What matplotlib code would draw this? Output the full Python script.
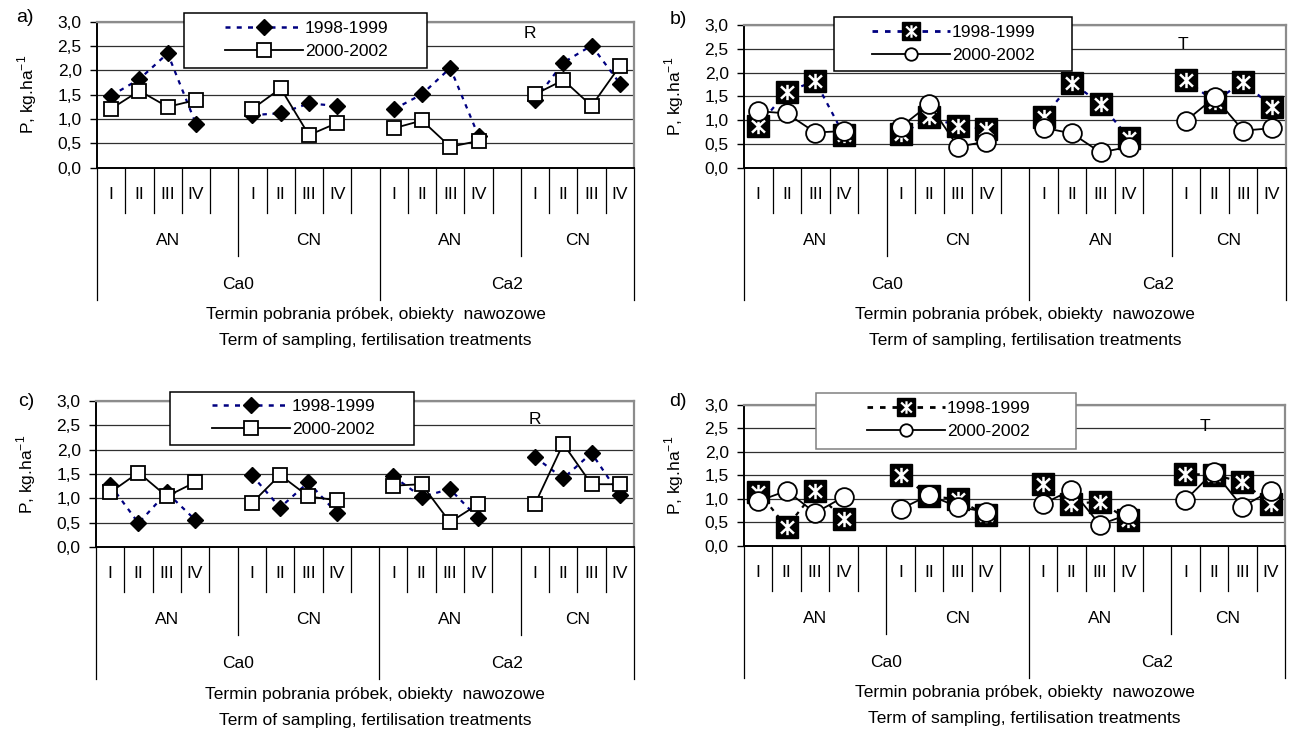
import matplotlib
matplotlib.use('Agg')
import matplotlib.pyplot as plt
from matplotlib.lines import Line2D
from matplotlib.patches import Rectangle
from matplotlib.path import Path
from matplotlib.ticker import FuncFormatter, MultipleLocator

plt.rcParams['font.family'] = ['Liberation Sans', 'DejaVu Sans']

# kategorie osi X
terms = ['I', 'II', 'III', 'IV']
fert = ['AN', 'CN', 'AN', 'CN']
lime = ['Ca0', 'Ca2']
series_names = ['1998-1999', '2000-2002']

# P, kg/ha  (Ca0 AN I-IV, Ca0 CN I-IV, Ca2 AN I-IV, Ca2 CN I-IV)
a_9899 = [1.48, 1.82, 2.35, 0.90, 1.08, 1.12, 1.32, 1.27, 1.20, 1.51, 2.05, 0.65, 1.39, 2.16, 2.51, 1.73]
a_0002 = [1.21, 1.58, 1.25, 1.39, 1.21, 1.63, 0.67, 0.92, 0.81, 0.97, 0.43, 0.55, 1.51, 1.80, 1.27, 2.09]
b_9899 = [0.88, 1.60, 1.82, 0.69, 0.70, 1.06, 0.88, 0.81, 1.06, 1.79, 1.34, 0.62, 1.84, 1.39, 1.81, 1.28]
b_0002 = [1.19, 1.14, 0.74, 0.77, 0.86, 1.33, 0.44, 0.55, 0.84, 0.72, 0.32, 0.44, 0.99, 1.48, 0.78, 0.83]
c_9899 = [1.28, 0.49, 1.12, 0.56, 1.48, 0.81, 1.33, 0.70, 1.45, 1.03, 1.19, 0.59, 1.85, 1.41, 1.93, 1.07]
c_0002 = [1.12, 1.53, 1.04, 1.33, 0.90, 1.48, 1.04, 0.96, 1.26, 1.29, 0.51, 0.88, 0.88, 2.12, 1.29, 1.29]
d_9899 = [1.15, 0.40, 1.16, 0.56, 1.51, 1.06, 0.99, 0.65, 1.31, 0.89, 0.94, 0.55, 1.53, 1.51, 1.36, 0.89]
d_0002 = [0.95, 1.17, 0.70, 1.04, 0.78, 1.08, 0.83, 0.72, 0.89, 1.19, 0.45, 0.67, 0.97, 1.58, 0.83, 1.17]

W, H = 1291, 732
FS = 12.5
NAVY = '#000080'
DOT = (0, (2, 2.5))

# gwiazdka jak w Excelu
star = Path([(0, -1), (0, 1), (-0.85, -0.8), (0.85, 0.8), (-0.85, 0.8), (0.85, -0.8)],
            [Path.MOVETO, Path.LINETO] * 3)

panels = [
    dict(tag='a)', v1=a_9899, v2=a_0002, style='diamond', dash=NAVY, note='R', note_xy=(15.3, 2.75),
         box=(97, 634, 21.7, 167.7), tag_xy=(25, 18), leg=(184, 427, 13, 68), leg_x=225, leg_y=27, leg_ec='black'),
    dict(tag='b)', v1=b_9899, v2=b_0002, style='star', dash=NAVY, note='T', note_xy=(15.4, 2.6),
         box=(744, 1286, 25, 167.7), tag_xy=(678, 20), leg=(834, 1072, 17, 71), leg_x=872, leg_y=31, leg_ec='black'),
    dict(tag='c)', v1=c_9899, v2=c_0002, style='diamond', dash=NAVY, note='R', note_xy=(15.5, 2.62),
         box=(96, 634, 401, 547), tag_xy=(26, 401), leg=(170, 414, 392, 445), leg_x=212, leg_y=405, leg_ec='black'),
    dict(tag='d)', v1=d_9899, v2=d_0002, style='star', dash='black', note='T', note_xy=(16.2, 2.55),
         box=(744, 1285, 405, 545.7), tag_xy=(678, 401), leg=(816, 1076, 393, 449), leg_x=867, leg_y=407, leg_ec='#808080'),
]

fig = plt.figure(figsize=(W / 100, H / 100), dpi=100)


def draw_panel(p):
    l, r, t, b = p['box']
    ax = fig.add_axes([l / W, 1 - b / H, (r - l) / W, (b - t) / H])
    axw, axh = r - l, b - t
    v1, v2 = p['v1'], p['v2']

    for g in range(4):
        xs = [g * 5 + k + 0.5 for k in range(4)]
        y1 = v1[4 * g:4 * g + 4]
        y2 = v2[4 * g:4 * g + 4]
        if p['style'] == 'diamond':
            ax.plot(xs, y1, color=p['dash'], ls=DOT, lw=1.6, marker='D', ms=8.3,
                    mfc='black', mec='black', zorder=3, clip_on=False)
            ax.plot(xs, y2, color='black', lw=1.3, marker='s', ms=10, mfc='white',
                    mec='black', mew=1.3, zorder=4, clip_on=False)
        else:
            ax.plot(xs, y1, color=p['dash'], ls=DOT, lw=1.6, marker='s', ms=15.5,
                    mfc='black', mec='black', zorder=3, clip_on=False)
            ax.plot(xs, y1, ls='none', marker=star, ms=11, mfc='none', mec='white',
                    mew=1.8, zorder=3.1, clip_on=False)
            ax.plot(xs, y2, color='black', lw=1.3, marker='o', ms=13.5, mfc='white',
                    mec='black', mew=1.3, zorder=4, clip_on=False)

    ax.set_xlim(0, 19)
    ax.set_ylim(0, 3)
    ax.yaxis.set_major_locator(MultipleLocator(0.5))
    ax.yaxis.set_major_formatter(FuncFormatter(lambda v, _: f'{v:.1f}'.replace('.', ',')))
    ax.tick_params(axis='y', length=5, width=1, pad=6, labelsize=FS)
    ax.set_xticks([])
    ax.set_axisbelow(True)
    ax.grid(axis='y', color='#303030', lw=0.9)
    ax.spines['left'].set_linewidth(1.4)
    ax.spines['bottom'].set_linewidth(1.4)
    for s in ('top', 'right'):
        ax.spines[s].set_color('#8c8c8c')
        ax.spines[s].set_linewidth(1.6)

    ax.set_ylabel(r'P, kg.ha$^{\mathregular{-1}}$', fontsize=FS)
    ax.yaxis.set_label_coords(-58 / axw, 0.5)

    # wielopoziomowa os kategorii
    tr = ax.get_xaxis_transform()
    for k in range(20):
        if k in (0, 10, 19):
            ln = 132
        elif k in (5, 15):
            ln = 88
        else:
            ln = 45
        ax.plot([k, k], [0, -ln / axh], transform=tr, color='black', lw=0.9, clip_on=False)
    for g in range(4):
        for k in range(4):
            ax.text(g * 5 + k + 0.5, -27 / axh, terms[k], transform=tr, ha='center', va='center', fontsize=FS)
        x0, x1 = g * 5, min(g * 5 + 5, 19)
        ax.text((x0 + x1) / 2, -73 / axh, fert[g], transform=tr, ha='center', va='center', fontsize=FS)
    ax.text(5, -117 / axh, lime[0], transform=tr, ha='center', va='center', fontsize=FS)
    ax.text(14.5, -117 / axh, lime[1], transform=tr, ha='center', va='center', fontsize=FS)
    ax.text(0.5 + 10 / axw, -147 / axh, 'Termin pobrania próbek, obiekty  nawozowe',
            transform=ax.transAxes, ha='center', va='center', fontsize=FS)
    ax.text(0.5 + 10 / axw, -173 / axh, 'Term of sampling, fertilisation treatments',
            transform=ax.transAxes, ha='center', va='center', fontsize=FS)

    ax.text(p['note_xy'][0], p['note_xy'][1], p['note'], ha='center', va='center', fontsize=FS)
    fig.text(p['tag_xy'][0] / W, 1 - p['tag_xy'][1] / H, p['tag'], ha='center', va='center', fontsize=14)

    # legenda w ramce
    ll, lr, lt, lb = p['leg']
    fig.add_artist(Rectangle((ll / W, 1 - lb / H), (lr - ll) / W, (lb - lt) / H, transform=fig.transFigure,
                             facecolor='white', edgecolor=p['leg_ec'], lw=1.1, zorder=4))
    if p['style'] == 'diamond':
        h1 = Line2D([], [], color=p['dash'], ls=DOT, lw=1.8, marker='D', ms=8, mfc='black', mec='black')
        h2 = Line2D([], [], color='black', lw=1.3, marker='s', ms=10, mfc='white', mec='black', mew=1.3)
    else:
        h1 = (Line2D([], [], color=p['dash'], ls=DOT, lw=2, marker='s', ms=12.5, mfc='black', mec='black'),
              Line2D([], [], ls='none', marker=star, ms=9, mfc='none', mec='white', mew=1.6))
        h2 = Line2D([], [], color='black', lw=1.3, marker='o', ms=9, mfc='white', mec='black', mew=1.3)
    fig.legend([h1, h2], series_names, loc='upper left',
               bbox_to_anchor=(p['leg_x'] / W, 1 - (p['leg_y'] - 6) / H),
               bbox_transform=fig.transFigure, frameon=False, borderpad=0, borderaxespad=0,
               handlelength=4.5, handletextpad=0.1, labelspacing=0.45, fontsize=FS)
    return ax


for p in panels:
    draw_panel(p)

fig.savefig('out.png', dpi=100)
